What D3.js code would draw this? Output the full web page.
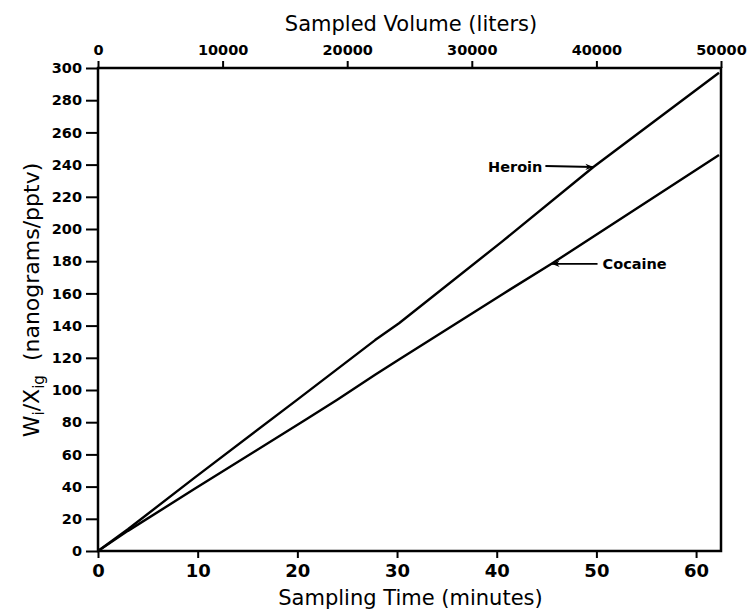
<!DOCTYPE html>
<html>
<head>
<meta charset="utf-8">
<script src="https://cdn.jsdelivr.net/npm/d3@7"></script>
<style>
  body { margin: 0; background: #fff; }
  svg { display: block; }
  text { font-family: "DejaVu Sans", sans-serif; fill: #000; }
</style>
</head>
<body>
<svg id="chart" width="752" height="611"></svg>
<script>
// values (time in minutes, W/X in nanograms/pptv)
var heroinTime  = [0, 3, 9.7, 20, 27.8, 30.2, 40.5, 49.7, 62.3];
var heroinValue = [0, 13.5, 45.6, 94, 131, 141.5, 192, 238.5, 297];
var cocaineTime  = [0, 3, 9.7, 20.7, 24, 27.8, 30.2, 40.7, 45.5, 62.3];
var cocaineValue = [0, 12.5, 38.6, 81, 94, 109.5, 119, 160, 178.4, 246];

var timeTicks = [0, 10, 20, 30, 40, 50, 60];
var volumeTicks = [0, 10000, 20000, 30000, 40000, 50000];
var valueTicks = d3.range(0, 301, 20);

var svg = d3.select("#chart");
// plot box (window.top is read-only, so keep these in one object)
var box = { l: 98, r: 721, t: 68, b: 551 };

var x = d3.scaleLinear().domain([0, 62.5]).range([box.l, box.r]);
var xTop = d3.scaleLinear().domain([0, 50000]).range([box.l, box.r]);
var y = d3.scaleLinear().domain([0, 300]).range([box.b, box.t]);

// bottom axis
var gx = svg.append("g")
    .attr("transform", "translate(0," + box.b + ")")
    .call(d3.axisBottom(x).tickValues(timeTicks).tickSize(7).tickPadding(6).tickSizeOuter(0));
gx.selectAll("text").style("font-size", "18px").style("font-weight", "bold")
    .style("font-family", "DejaVu Sans");

// top axis
var gt = svg.append("g")
    .attr("transform", "translate(0," + box.t + ")")
    .call(d3.axisTop(xTop).tickValues(volumeTicks).tickFormat(d3.format("d"))
        .tickSize(7).tickPadding(6).tickSizeOuter(0));
gt.selectAll("text").style("font-size", "14.5px").style("font-weight", "bold")
    .style("font-family", "DejaVu Sans");

// left axis
var gy = svg.append("g")
    .attr("transform", "translate(" + box.l + ",0)")
    .call(d3.axisLeft(y).tickValues(valueTicks).tickSize(12).tickPadding(4).tickSizeOuter(0));
gy.selectAll("text").style("font-size", "14.5px").style("font-weight", "bold")
    .style("font-family", "DejaVu Sans");

// thick axis strokes like the printed figure
svg.selectAll(".domain").remove();
svg.selectAll(".tick line").attr("stroke", "#000").attr("stroke-width", 2);

svg.append("rect")
    .attr("x", box.l).attr("y", box.t)
    .attr("width", box.r - box.l).attr("height", box.b - box.t)
    .attr("fill", "none").attr("stroke", "#000").attr("stroke-width", 2.5);

// series
var line = d3.line()
    .x(function (d) { return x(d[0]); })
    .y(function (d) { return y(d[1]); });

var series = [
    { name: "Heroin", pts: d3.zip(heroinTime, heroinValue) },
    { name: "Cocaine", pts: d3.zip(cocaineTime, cocaineValue) }
];

svg.selectAll("path.series")
    .data(series)
    .enter().append("path")
    .attr("class", "series")
    .attr("d", function (d) { return line(d.pts); })
    .attr("fill", "none")
    .attr("stroke", "#000")
    .attr("stroke-width", 2.4)
    .attr("stroke-linejoin", "round");

// arrowhead
svg.append("defs").append("marker")
    .attr("id", "arrow")
    .attr("viewBox", "0 0 10 10")
    .attr("refX", 10).attr("refY", 5)
    .attr("markerWidth", 11).attr("markerHeight", 8)
    .attr("markerUnits", "userSpaceOnUse")
    .attr("orient", "auto")
    .append("path")
    .attr("d", "M0,1 L10,5 L0,9 L3,5 Z")
    .attr("fill", "#000");

// Heroin label with arrow pointing right to the line
var hTip = [x(49.7), y(238.5)];
svg.append("line")
    .attr("x1", hTip[0] - 48).attr("y1", hTip[1] - 1)
    .attr("x2", hTip[0]).attr("y2", hTip[1])
    .attr("stroke", "#000").attr("stroke-width", 1.8)
    .attr("marker-end", "url(#arrow)");
svg.append("text")
    .attr("x", hTip[0] - 51).attr("y", hTip[1] + 5)
    .attr("text-anchor", "end")
    .style("font-size", "14.5px").style("font-weight", "bold")
    .text("Heroin");

// Cocaine label with arrow pointing left to the line
var cTip = [x(45.5), y(178.4)];
svg.append("line")
    .attr("x1", cTip[0] + 46).attr("y1", cTip[1])
    .attr("x2", cTip[0]).attr("y2", cTip[1])
    .attr("stroke", "#000").attr("stroke-width", 1.8)
    .attr("marker-end", "url(#arrow)");
svg.append("text")
    .attr("x", cTip[0] + 51).attr("y", cTip[1] + 5)
    .style("font-size", "14.5px").style("font-weight", "bold")
    .text("Cocaine");

// axis titles
svg.append("text")
    .attr("x", 411).attr("y", 31)
    .attr("text-anchor", "middle")
    .style("font-size", "21px")
    .text("Sampled Volume (liters)");

svg.append("text")
    .attr("x", (box.l + box.r) / 2 + 1).attr("y", 605)
    .attr("text-anchor", "middle")
    .style("font-size", "21px")
    .text("Sampling Time (minutes)");

var yl = svg.append("text")
    .attr("transform", "translate(39,300) rotate(-90)")
    .attr("text-anchor", "middle")
    .style("font-size", "22px");
yl.append("tspan").text("W");
yl.append("tspan").attr("dy", 5).style("font-size", "15px").text("i");
yl.append("tspan").attr("dy", -5).text("/X");
yl.append("tspan").attr("dy", 5).style("font-size", "15px").text("ig");
yl.append("tspan").attr("dy", -5).text("\u00a0 (nanograms/pptv)");
</script>
</body>
</html>
